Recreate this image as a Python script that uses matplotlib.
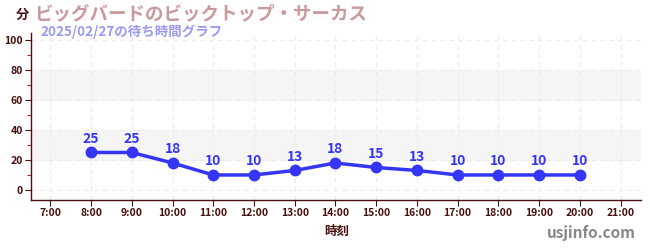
import matplotlib
matplotlib.use('Agg')
import matplotlib.pyplot as plt
from matplotlib.ticker import MultipleLocator

plt.rcParams['font.family'] = ['Noto Sans CJK JP', 'DejaVu Sans']

# Data
hours = [8, 9, 10, 11, 12, 13, 14, 15, 16, 17, 18, 19, 20]
waits = [25, 25, 18, 10, 10, 13, 18, 15, 13, 10, 10, 10, 10]
tick_hours = list(range(7, 22))
tick_labels = [f'{h}:00' for h in tick_hours]

title = 'ビッグバードのビックトップ・サーカス'
subtitle = '2025/02/27の待ち時間グラフ'

dark = '#4a0f0f'
line_color = '#3535f5'

fig = plt.figure(figsize=(6.5, 2.5), dpi=100)
ax = fig.add_axes([0.048, 0.2, 0.938, 0.668])

# background bands
for lo, hi in [(20, 40), (60, 80)]:
    ax.axhspan(lo, hi, color='#f5f5f5', zorder=0)

ax.plot(hours, waits, '-o', color=line_color, linewidth=2.5, markersize=7.5, zorder=3)
for h, w in zip(hours, waits):
    ax.annotate(str(w), (h, w), textcoords='offset points', xytext=(0, 5),
                ha='center', va='bottom', fontsize=10, fontweight='bold', color=line_color)

ax.set_xlim(6.53, 21.5)
ax.set_ylim(-6.7, 104.7)
ax.set_xticks(tick_hours)
ax.set_xticklabels(tick_labels)
ax.set_yticks(range(0, 101, 20))
ax.yaxis.set_minor_locator(MultipleLocator(10))

ax.grid(True, which='major', linestyle=(0, (4, 4)), color='#ebebeb', linewidth=0.8, zorder=1)
ax.tick_params(axis='both', which='major', labelsize=7.5, colors=dark, length=4, width=0.8, pad=2)
ax.tick_params(axis='y', which='minor', length=3, color='#cc2222', width=0.8)
for lbl in ax.get_xticklabels() + ax.get_yticklabels():
    lbl.set_fontweight('bold')

for side in ['top', 'right']:
    ax.spines[side].set_visible(False)
for side in ['left', 'bottom']:
    ax.spines[side].set_color(dark)
    ax.spines[side].set_linewidth(1.0)

fig.text(337 / 650, 1 - 231 / 250, '時刻', ha='center', va='center', fontsize=9,
         fontweight='bold', color=dark)
fig.text(22 / 650, 1 - 15 / 250, '分', ha='center', va='center', fontsize=9.5,
         fontweight='bold', color=dark)
fig.text(34 / 650, 1 - 14 / 250, title, ha='left', va='center', fontsize=13.3,
         fontweight='bold', color='#c9999c')
fig.text(40 / 650, 1 - 32 / 250, subtitle, ha='left', va='center', fontsize=9.7,
         fontweight='bold', color='#9a9af0')
fig.text(636 / 650, 1 - 233 / 250, 'usjinfo.com', ha='right', va='center', fontsize=11,
         fontweight='bold', color='#888888')

fig.savefig('out.png', dpi=100)
